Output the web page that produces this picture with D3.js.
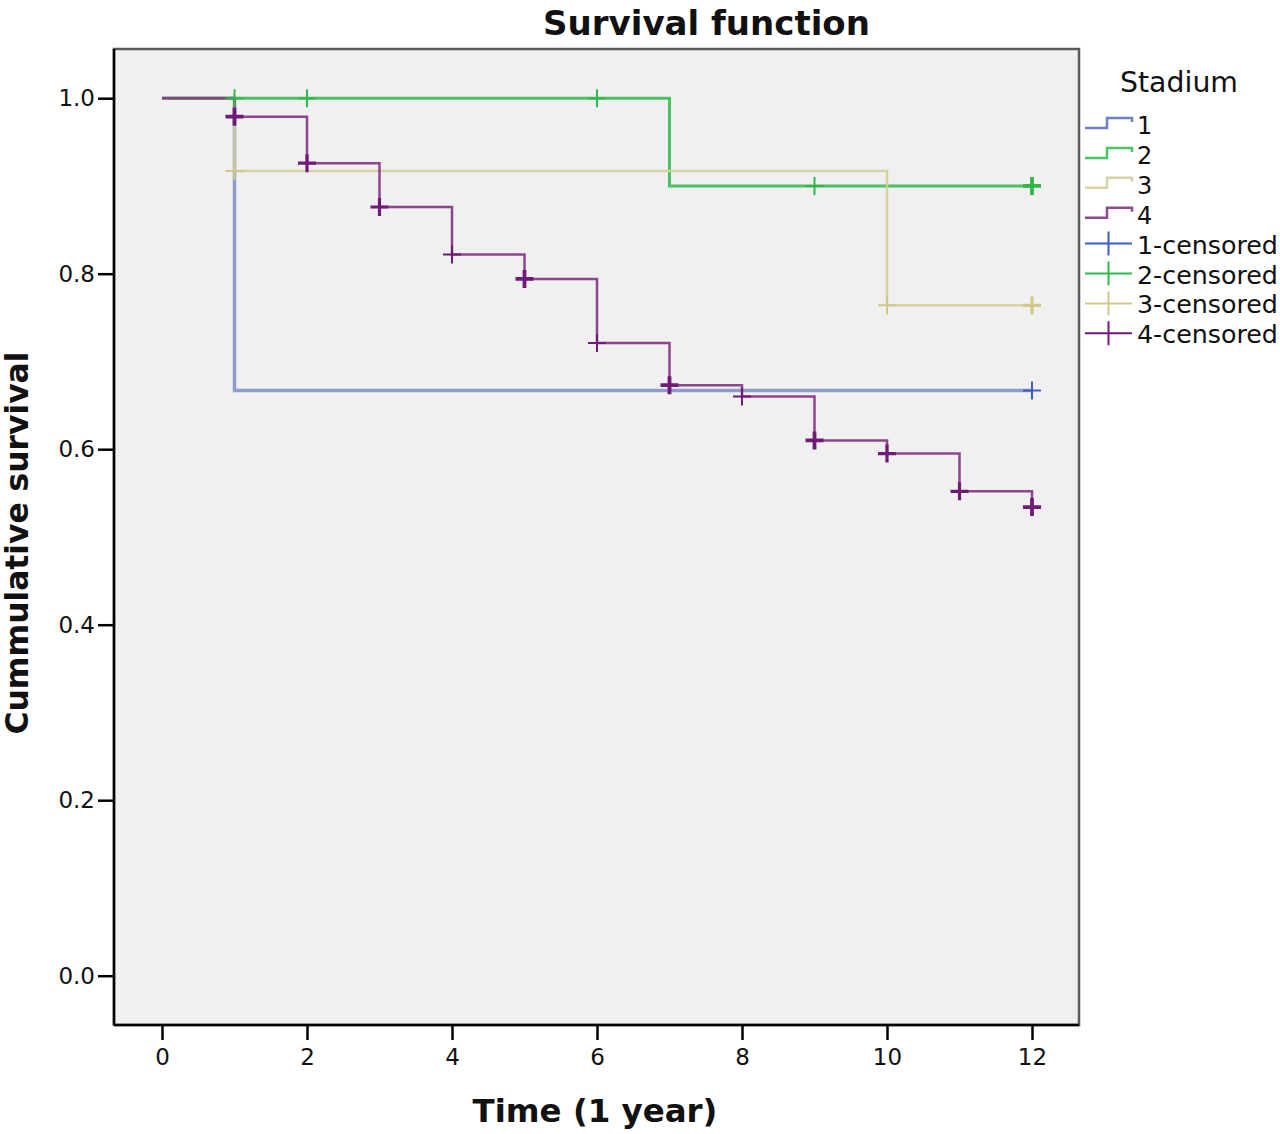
<!DOCTYPE html>
<html><head><meta charset="utf-8">
<script src="https://cdn.jsdelivr.net/npm/d3@7"></script>
<style>
html,body{margin:0;padding:0;background:#fff;}
svg{display:block;font-family:"DejaVu Sans",sans-serif;}
</style></head>
<body>
<svg id="c" width="1280" height="1134"></svg>
<script>
// ---- data ----
const groups = ["1","2","3","4"];
const legendTitle = "Stadium";
const censoredLabels = ["1-censored","2-censored","3-censored","4-censored"];
const xTicks = [0,2,4,6,8,10,12];
const yTicks = [0.0,0.2,0.4,0.6,0.8,1.0];

// step curves: times and cumulative survival after each time
const times1 = [0,1,12];            const surv1 = [1.0,0.667,0.667];
const times2 = [0,7,12];            const surv2 = [1.0,0.900,0.900];
const times3 = [0,1,10,12];         const surv3 = [1.0,0.917,0.764,0.764];
const times4 = [0,1,2,3,4,5,6,7,8,9,10,11,12];
const surv4  = [1.0,0.979,0.926,0.876,0.822,0.794,0.721,0.673,0.660,0.610,0.595,0.552,0.534];

// censored observations: time, survival level, number censored
const cens1T = [12];               const cens1S = [0.667];             const cens1N = [1];
const cens2T = [1,2,6,9,12];       const cens2S = [1,1,1,0.9,0.9];     const cens2N = [1,1,1,1,3];
const cens3T = [1,10,12];          const cens3S = [0.917,0.764,0.764]; const cens3N = [1,1,2];
const cens4T = [1,2,3,4,5,6,7,8,9,10,11,12];
const cens4S = [0.979,0.926,0.876,0.822,0.794,0.721,0.673,0.660,0.610,0.595,0.552,0.534];
const cens4N = [3,2,2,1,3,1,3,1,3,2,2,3];

// ---- styling / layout ----
const lineColors = ["#3e58ac","#2eb848","#d3ce97","#7c287d"];
const markColors = ["#3d5bc4","#2eb848","#cfc88a","#6f1a75"];
const lineWidths = [3.5,3,2.5,2.5];
const lineOpac   = [0.55,0.85,0.9,0.85];

const svg = d3.select("#c");
const frame = {x0:114, x1:1079, y0:49, y1:1025};
const x = d3.scaleLinear().domain([0,12]).range([162,1032]);
const y = d3.scaleLinear().domain([0,1]).range([975.7,98.2]);

function fit(sel, target){
  const w = sel.node().getComputedTextLength();
  const fs = parseFloat(sel.attr("font-size"));
  sel.attr("font-size", (fs*target/w).toFixed(2));
}

// plot background
svg.append("rect").attr("x",frame.x0).attr("y",frame.y0)
  .attr("width",frame.x1-frame.x0).attr("height",frame.y1-frame.y0)
  .attr("fill","#f0f0f0").attr("stroke","#5a5a5a").attr("stroke-width",2.5);

// axes
const xAxis = d3.axisBottom(x).tickValues(xTicks).tickSize(15).tickPadding(9).tickFormat(d3.format("d"));
const gx = svg.append("g").attr("transform",`translate(0,${frame.y1})`).call(xAxis);
gx.select(".domain").attr("d",`M${frame.x0},0H${frame.x1}`).attr("stroke","#000").attr("stroke-width",2.5);
gx.selectAll(".tick line").attr("stroke","#000").attr("stroke-width",2.5);
gx.selectAll(".tick text").attr("font-size",23).attr("font-family","DejaVu Sans").attr("fill","#111");

const yAxis = d3.axisLeft(y).tickValues(yTicks).tickSize(16).tickPadding(3).tickFormat(d3.format(".1f"));
const gy = svg.append("g").attr("transform",`translate(${frame.x0},0)`).call(yAxis);
gy.select(".domain").attr("d",`M0,${frame.y0}V${frame.y1}`).attr("stroke","#000").attr("stroke-width",2.5);
gy.selectAll(".tick line").attr("stroke","#000").attr("stroke-width",2.5);
gy.selectAll(".tick text").attr("font-size",23).attr("font-family","DejaVu Sans").attr("fill","#111");

// step lines
const curves = [[times1,surv1],[times2,surv2],[times3,surv3],[times4,surv4]];
const line = d3.line().x(d=>x(d[0])).y(d=>y(d[1])).curve(d3.curveStepAfter);
curves.forEach(([t,s],i)=>{
  svg.append("path").datum(t.map((v,k)=>[v,s[k]]))
    .attr("d",line).attr("fill","none")
    .attr("stroke",lineColors[i]).attr("stroke-width",lineWidths[i])
    .attr("stroke-opacity",lineOpac[i]);
});

// censor marks
const cens = [[cens1T,cens1S,cens1N],[cens2T,cens2S,cens2N],[cens3T,cens3S,cens3N],[cens4T,cens4S,cens4N]];
const h = 9;
cens.forEach(([t,s,n],i)=>{
  const g = svg.append("g");
  t.forEach((tv,k)=>{
    const cx = x(tv), cy = y(s[k]);
    const sw = n[k]>1 ? 2+n[k]*0.6 : 2;
    g.append("path").attr("d",`M${cx-h},${cy}H${cx+h}M${cx},${cy-h}V${cy+h}`)
      .attr("stroke",markColors[i]).attr("stroke-width",sw).attr("fill","none");
  });
});

// titles
const title = svg.append("text").attr("x",706.5).attr("y",35).attr("text-anchor","middle")
  .attr("font-weight","bold").attr("font-size",30).attr("fill","#111").text("Survival function");
fit(title,327);
const xl = svg.append("text").attr("x",595).attr("y",1122).attr("text-anchor","middle")
  .attr("font-weight","bold").attr("font-size",28).attr("fill","#111").text("Time (1 year)");
fit(xl,245);
const yl = svg.append("text").attr("transform","translate(28,543) rotate(-90)").attr("text-anchor","middle")
  .attr("font-weight","bold").attr("font-size",28).attr("fill","#111").text("Cummulative survival");
fit(yl,383);

// legend
const leg = svg.append("g");
const lt = leg.append("text").attr("x",1120).attr("y",92).attr("font-size",24).attr("fill","#111").text(legendTitle);
fit(lt,118);
const lx0 = 1085, lx1 = 1132, tx = 1137, base0 = 134, step = 29.9;
groups.forEach((gname,i)=>{
  const b = base0 + i*step;
  const top = b-16, bot = b-6, mid = lx0+22;
  leg.append("path").attr("d",`M${lx0},${bot}H${mid}V${top}H${lx1}V${top+4}`)
    .attr("fill","none").attr("stroke",lineColors[i]).attr("stroke-width",2.5).attr("stroke-opacity",Math.max(lineOpac[i],0.75));
  leg.append("text").attr("x",tx).attr("y",b).attr("font-size",24).attr("fill","#111").text(gname);
});
censoredLabels.forEach((lab,i)=>{
  const b = base0 + (i+4)*step;
  const cy = b-10, mid = (lx0+lx1)/2;
  leg.append("path").attr("d",`M${lx0},${cy}H${lx1}M${mid},${cy-12}V${cy+12}`)
    .attr("fill","none").attr("stroke",markColors[i]).attr("stroke-width",2);
  const t = leg.append("text").attr("x",tx).attr("y",b).attr("font-size",23).attr("fill","#111").text(lab);
  fit(t,141);
});
</script>
</body></html>
